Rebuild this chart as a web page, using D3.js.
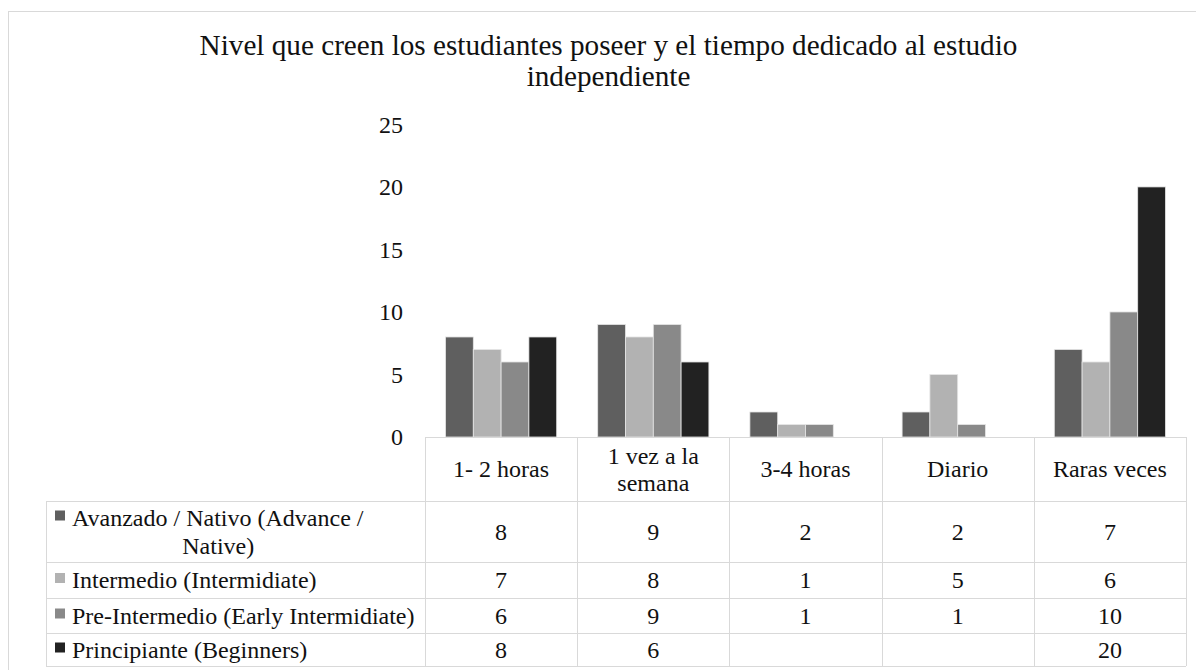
<!DOCTYPE html>
<html>
<head>
<meta charset="utf-8">
<script src="https://cdn.jsdelivr.net/npm/d3@7"></script>
<style>
  body { margin: 0; background: #fff; }
</style>
</head>
<body>
<svg id="chart" width="1196" height="670"></svg>
<script>
// data
var titleLines = ["Nivel que creen los estudiantes poseer y el tiempo dedicado al estudio", "independiente"];
var categories = ["1- 2 horas", "1 vez a la semana", "3-4 horas", "Diario", "Raras veces"];
var seriesNames = ["Avanzado / Nativo (Advance / Native)", "Intermedio (Intermidiate)",
                   "Pre-Intermedio (Early Intermidiate)", "Principiante (Beginners)"];
var avanzado = [8, 9, 2, 2, 7];
var intermedio = [7, 8, 1, 5, 6];
var preIntermedio = [6, 9, 1, 1, 10];
var principiante = [8, 6, null, null, 20];
var yTicks = [0, 5, 10, 15, 20, 25];
var colors = ["#5f5f5f", "#b2b2b2", "#898989", "#222222"];

var seriesValues = [avanzado, intermedio, preIntermedio, principiante];
var GRID = "#d9d9d9";
var FONT = "'Liberation Serif', 'DejaVu Serif', 'Times New Roman', serif";

var svg = d3.select("#chart")
    .attr("font-family", FONT)
    .style("font-family", FONT);

function txt(sel, size) {
    return sel.attr("font-family", FONT).style("font-family", FONT)
        .style("font-size", size).style("fill", "#111");
}

// outer frame
svg.append("rect")
    .attr("x", 8.5).attr("y", 11.5)
    .attr("width", 1300).attr("height", 800)
    .style("fill", "none").style("stroke", GRID);

// title
txt(svg.append("g").selectAll("text").data(titleLines).enter().append("text")
    .attr("x", 608.5)
    .attr("y", function(d, i) { return 55 + i*31; })
    .attr("text-anchor", "middle")
    .text(function(d) { return d; }), "29.2px");

// scales
var plotLeft = 425, plotRight = 1186, tableLeft = 46;
var x = d3.scaleBand().domain(categories).range([plotLeft, plotRight]);
var xInner = d3.scaleBand().domain(d3.range(seriesNames.length))
    .range([20.5, x.bandwidth()-20.5]);
var y = d3.scaleLinear().domain([0, 25]).range([437, 124.4]);

// y axis labels only (no line, no grid)
var yAxis = d3.axisLeft(y).tickValues(yTicks).tickSize(0).tickPadding(0);
var yg = svg.append("g").attr("transform", "translate(403,0)").call(yAxis);
yg.attr("font-family", FONT);
yg.select(".domain").remove();
txt(yg.selectAll("text"), "24px");

// bars
var groups = svg.append("g").selectAll("g").data(categories).enter().append("g")
    .attr("transform", function(d) { return "translate(" + x(d) + ",0)"; });
groups.selectAll("rect")
    .data(function(d, ci) {
        return seriesValues.map(function(vals, si) { return {si: si, v: vals[ci]}; })
            .filter(function(o) { return o.v != null; });
    })
    .enter().append("rect")
    .attr("x", function(d) { return xInner(d.si); })
    .attr("width", xInner.bandwidth())
    .attr("y", function(d) { return y(d.v); })
    .attr("height", function(d) { return y(0) - y(d.v); })
    .style("fill", function(d) { return colors[d.si]; })
    .style("stroke", "#e6e6e6")
    .style("stroke-width", 0.8);

// data table
var headerTop = 437, headerBottom = 501;
var rowBounds = [501, 562, 598, 633, 666];
var table = svg.append("g").style("shape-rendering", "crispEdges");

function hline(x1, x2, yy) {
    table.append("line").attr("x1", x1).attr("x2", x2).attr("y1", yy + 0.5).attr("y2", yy + 0.5)
        .style("stroke", GRID);
}
function vline(xx, y1, y2) {
    table.append("line").attr("x1", xx + 0.5).attr("x2", xx + 0.5).attr("y1", y1).attr("y2", y2)
        .style("stroke", GRID);
}
hline(plotLeft, plotRight, headerTop);
rowBounds.forEach(function(b) { hline(tableLeft, plotRight, b); });
vline(tableLeft, rowBounds[0], rowBounds[rowBounds.length-1]);
x.domain().forEach(function(c) { vline(Math.round(x(c)), headerTop, rowBounds[rowBounds.length-1]); });
vline(plotRight, headerTop, rowBounds[rowBounds.length-1]);

// wrap words into lines that fit maxWidth
function wrapLines(text, maxWidth, size) {
    var probe = txt(svg.append("text"), size);
    var words = text.split(" "), lines = [], cur = "";
    words.forEach(function(w) {
        var test = cur ? cur + " " + w : w;
        probe.text(test);
        if (probe.node().getComputedTextLength() > maxWidth && cur) {
            lines.push(cur);
            cur = w;
        } else {
            cur = test;
        }
    });
    lines.push(cur);
    probe.remove();
    return lines;
}

// category header cells
categories.forEach(function(c) {
    var lines = wrapLines(c, x.bandwidth() - 24, "24px");
    var mid = (headerTop + headerBottom) / 2;
    var first = mid + 8 - (lines.length - 1) * 13.5;
    txt(svg.append("g").selectAll("text").data(lines).enter().append("text")
        .attr("x", x(c) + x.bandwidth()/2)
        .attr("y", function(d, i) { return first + i*27; })
        .attr("text-anchor", "middle")
        .text(function(d) { return d; }), "24px");
});

// legend cells + values
seriesNames.forEach(function(name, si) {
    var top = rowBounds[si], bottom = rowBounds[si+1], mid = (top + bottom) / 2;
    var lines = wrapLines(name, 352, "24px");
    var first = mid + 8 - (lines.length - 1) * 14;
    var g = svg.append("g");
    g.append("rect")
        .attr("x", 55).attr("y", first - 15)
        .attr("width", 10).attr("height", 10)
        .style("fill", colors[si]);
    var t0 = txt(g.append("text").attr("x", 72).attr("y", first).text(lines[0]), "24px");
    var center = (55 + 72 + t0.node().getComputedTextLength()) / 2 + 9;
    lines.slice(1).forEach(function(l, i) {
        txt(g.append("text").attr("x", center).attr("y", first + (i+1)*28)
            .attr("text-anchor", "middle").text(l), "24px");
    });
    seriesValues[si].forEach(function(v, ci) {
        if (v == null) return;
        txt(g.append("text")
            .attr("x", x(categories[ci]) + x.bandwidth()/2)
            .attr("y", mid + 8)
            .attr("text-anchor", "middle")
            .text(v), "24px");
    });
});
</script>
</body>
</html>
